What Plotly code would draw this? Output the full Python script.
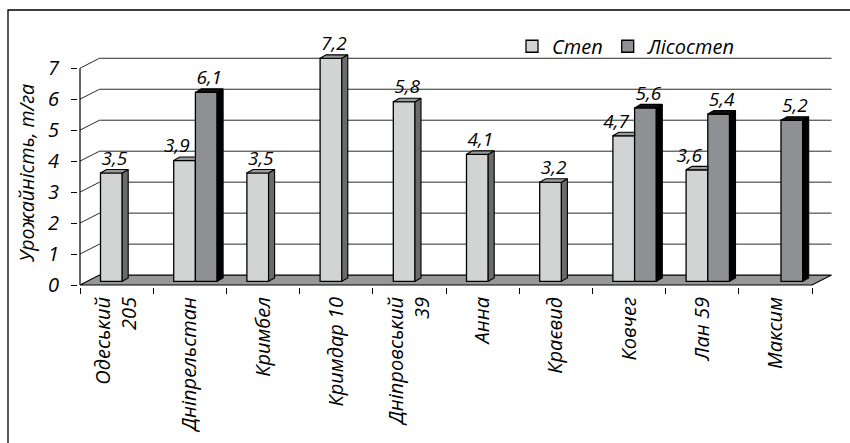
import plotly.graph_objects as go

# ---------------- data ----------------
categories = ["Одеський<br>205", "Дніпрельстан", "Кримбел", "Кримдар 10",
              "Дніпровський<br>39", "Анна", "Краєвид", "Ковчег", "Лан 59", "Максим"]
step = [3.5, 3.9, 3.5, 7.2, 5.8, 4.1, 3.2, 4.7, 3.6, None]
lisostep = [None, 6.1, None, None, None, None, None, 5.6, 5.4, 5.2]
series_names = ["Степ", "Лісостеп"]
y_ticks = [0, 1, 2, 3, 4, 5, 6, 7]
y_title = "Урожайність, т/га"

# ---------------- geometry / style ----------------
W_PX, H_PX = 850, 443
L, R, T, B = 78, 840, 12, 289          # plot area in px
UX = 73.2                               # px per category
UY = 31.2                               # px per y unit
x0 = -0.5 - 2 / UX
y0 = -2 / UY
xr_max = x0 + (R - L) / UX
yr_max = y0 + (B - T) / UY

DXW, DYW = 19.5 / UX, 10 / UY           # back wall depth offset
BASE = 3.7 / UY                         # bar baseline (mid depth)
BW = 21.7 / UX                          # bar width
OFF_S = -0.22
OFF_L = OFF_S + BW
DX, DY = 6 / UX, 3.5 / UY               # bar side/top depth

FONT = "Open Sans"
FS = 20
FS_LBL = 19
FS_TITLE = 19.5
C_STEP, C_STEP_SIDE, C_STEP_TOP = "#d2d3d3", "#6a6a6a", "#9a9a9a"
C_LIS, C_LIS_SIDE, C_LIS_TOP = "#8f9094", "#000000", "#111111"
N = len(categories)
xs = list(range(N))


def fmt(v):
    return f"{v:.1f}".replace(".", ",")


def px_x(p):
    return (p - L) / (R - L)


def px_y(p):
    return (B - p) / (B - T)


fig = go.Figure()

# ---------------- bars (front faces) ----------------
fig.add_trace(go.Bar(x=xs, y=step, base=BASE, offset=OFF_S, width=BW, name=series_names[0],
                     marker=dict(color=C_STEP, line=dict(color="black", width=1.3))))
fig.add_trace(go.Bar(x=xs, y=lisostep, base=BASE, offset=OFF_L, width=BW, name=series_names[1],
                     marker=dict(color=C_LIS, line=dict(color="black", width=1.3))))


# ---------------- 3D side/top faces from the same data ----------------
def faces(vals, off, other=None):
    sx, sy, tx, ty = [], [], [], []
    for i, v in enumerate(vals):
        if v is None:
            continue
        xl = i + off
        xr = xl + BW
        t = BASE + v
        hidden = other is not None and other[i] is not None
        if not hidden:
            sx += [xr, xr, xr + DX, xr + DX, xr, None]
            sy += [BASE, t, t + DY, BASE + DY, BASE, None]
            tx += [xl, xr, xr + DX, xl + DX, xl, None]
            ty += [t, t, t + DY, t + DY, t, None]
        else:
            tx += [xl, xr, xr, xl + DX, xl, None]
            ty += [t, t, t + DY, t + DY, t, None]
    return sx, sy, tx, ty


for vals, off, other, cs, ct in [(step, OFF_S, lisostep, C_STEP_SIDE, C_STEP_TOP),
                                 (lisostep, OFF_L, None, C_LIS_SIDE, C_LIS_TOP)]:
    sx, sy, tx, ty = faces(vals, off, other)
    if sx:
        fig.add_trace(go.Scatter(x=sx, y=sy, mode="lines", fill="toself", fillcolor=cs,
                                 line=dict(color="black", width=1.1), showlegend=False,
                                 hoverinfo="skip"))
    fig.add_trace(go.Scatter(x=tx, y=ty, mode="lines", fill="toself", fillcolor=ct,
                             line=dict(color="black", width=1.1), showlegend=False,
                             hoverinfo="skip"))

# ---------------- value labels ----------------
lx, ly, lt, lp = [], [], [], []
for i, v in enumerate(step):
    if v is None:
        continue
    if lisostep[i] is not None:
        lx.append(i + OFF_S + BW * 0.5 + 0.07)
        lp.append("top left")
    else:
        lx.append(i + OFF_S + BW * 0.5 + DX * 0.5)
        lp.append("top center")
    ly.append(BASE + v + DY)
    lt.append(fmt(v))
for i, v in enumerate(lisostep):
    if v is None:
        continue
    lx.append(i + OFF_L + BW * 0.5 + DX * 0.5)
    ly.append(BASE + v + DY)
    lt.append(fmt(v))
    lp.append("top center")
fig.add_trace(go.Scatter(x=lx, y=ly, text=lt, mode="text", textposition=lp,
                         textfont=dict(family=FONT, size=FS_LBL, color="black", style="italic"),
                         showlegend=False, hoverinfo="skip", cliponaxis=False))

# ---------------- background: floor, walls, gridlines ----------------
shapes = []
xa, xb = -0.5, N - 0.5
for t in y_ticks[1:]:
    shapes.append(dict(type="path", xref="x", yref="y", layer="below",
                       path=f"M{xa},{t} L{xa + DXW},{t + DYW} L{xb + DXW},{t + DYW}",
                       line=dict(color="#2a2a2a", width=1)))
shapes.append(dict(type="path", xref="x", yref="y", layer="below",
                   path=f"M{xa},0 L{xb},0 L{xb + DXW},{DYW} L{xa + DXW},{DYW} Z",
                   fillcolor="#979797", line=dict(color="black", width=1.2)))
shapes.append(dict(type="line", xref="x", yref="y", layer="above",
                   x0=xa, x1=xa, y0=0, y1=y_ticks[-1], line=dict(color="black", width=1.2)))
# outer frame
shapes.append(dict(type="rect", xref="paper", yref="paper",
                   x0=px_x(8), x1=px_x(856), y0=px_y(10), y1=px_y(452),
                   line=dict(color="black", width=1.3), fillcolor="rgba(0,0,0,0)"))

annotations = [dict(text=y_title, textangle=-90, xref="paper", yref="paper",
                    x=px_x(27), y=px_y(175), xanchor="center", yanchor="middle",
                    showarrow=False,
                    font=dict(family=FONT, size=FS_TITLE, color="black", style="italic"))]

fig.update_layout(
    width=W_PX, height=H_PX,
    margin=dict(l=L, r=W_PX - R, t=T, b=H_PX - B, pad=0),
    paper_bgcolor="white", plot_bgcolor="white",
    barmode="overlay",
    shapes=shapes, annotations=annotations,
    font=dict(family=FONT, size=FS, color="black"),
    legend=dict(orientation="h", x=px_x(512), y=px_y(46.5), xanchor="left", yanchor="middle",
                font=dict(family=FONT, size=FS, color="black", style="italic"),
                bgcolor="rgba(0,0,0,0)", itemwidth=30, traceorder="normal"),
    xaxis=dict(range=[x0, xr_max], tickmode="array", tickvals=xs, ticktext=categories,
               tickangle=-90, ticks="", showgrid=False, zeroline=False, showline=False,
               tickfont=dict(family=FONT, size=FS, color="black", style="italic"),
               ticklabelstandoff=5,
               minor=dict(tickmode="array", tickvals=[i - 0.5 for i in range(N + 1)],
                          ticks="outside", ticklen=6, tickcolor="black", tickwidth=1.2,
                          showgrid=False)),
    yaxis=dict(range=[y0, yr_max], tickmode="array", tickvals=y_ticks,
               ticktext=[str(t) for t in y_ticks], ticks="outside", ticklen=6,
               tickcolor="black", tickwidth=1.2, showgrid=False, zeroline=False,
               showline=False, ticklabelstandoff=8,
               tickfont=dict(family=FONT, size=FS, color="black", style="italic")),
)

fig.write_html("out.html")
